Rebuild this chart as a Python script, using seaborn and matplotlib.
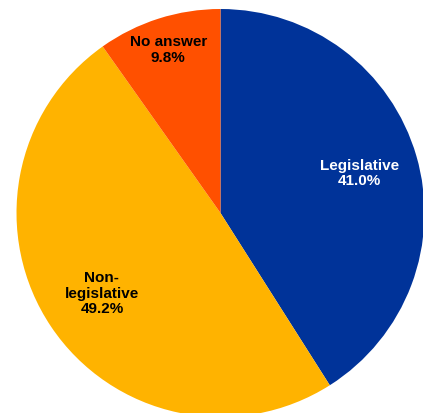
import numpy as np
import matplotlib
matplotlib.use("Agg")
import matplotlib.pyplot as plt
import seaborn as sns

# Share of answers by type
categories = ["Legislative", "Non-\nlegislative", "No answer"]
shares = [41.0, 49.2, 9.8]
colors = ["#003399", "#FFB300", "#FF5000"]
text_colors = ["white", "black", "black"]
label_radius = [0.71, 0.70, 0.845]

sns.set_style("white")
plt.rcParams["font.family"] = ["Liberation Sans", "DejaVu Sans"]

W, H = 423, 414
fig = plt.figure(figsize=(W / 100, H / 100), dpi=100)
ax = fig.add_axes([0, 0, 1, 1])

cx, cy, R = 220.5, H - 214, 204
wedges, _ = ax.pie(shares, colors=colors, startangle=90, counterclock=False,
                   center=(cx, cy), radius=R, frame=True,
                   wedgeprops=dict(linewidth=0))
ax.set_xlim(0, W)
ax.set_ylim(0, H)
ax.set_aspect("equal")
ax.axis("off")

for w, name, val, tc, lr in zip(wedges, categories, shares, text_colors, label_radius):
    mid = np.deg2rad((w.theta1 + w.theta2) / 2)
    x = cx + lr * R * np.cos(mid)
    y = cy + lr * R * np.sin(mid)
    ax.text(x, y, f"{name}\n{val:.1f}%", ha="center", va="center",
            color=tc, fontsize=11, fontweight="bold", linespacing=1.15)

fig.savefig("out.png", dpi=100, facecolor="white")
